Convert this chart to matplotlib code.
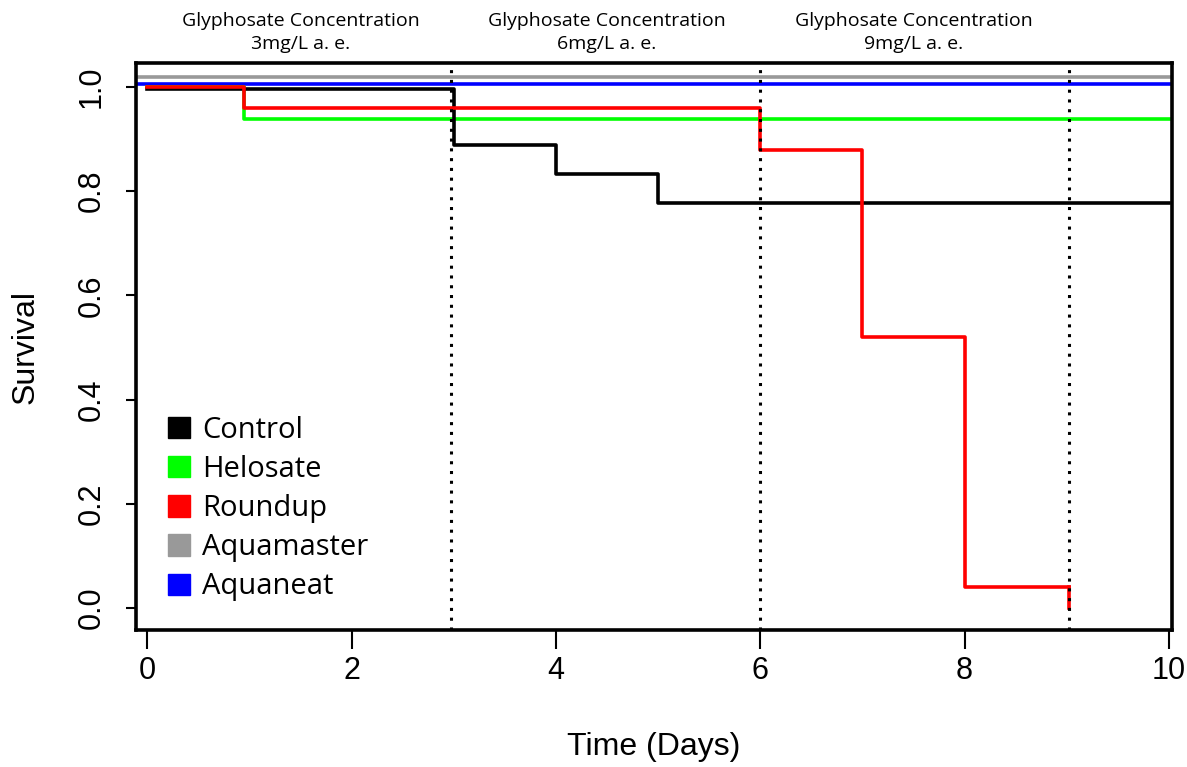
import matplotlib.pyplot as plt

# step survival curves (time of change, survival after)
control_t = [0, 3, 4, 5, 10]
control_s = [0.997, 0.889, 0.833, 0.778, 0.778]
helosate_t = [0, 0.95, 10]
helosate_s = [1.0, 0.938, 0.938]
roundup_t = [0, 0.95, 6, 7, 8, 9.02]
roundup_s = [1.0, 0.96, 0.88, 0.52, 0.04, 0.04]
aquamaster_s = 1.02
aquaneat_s = 1.005

series_names = ['Control', 'Helosate', 'Roundup', 'Aquamaster', 'Aquaneat']
series_colors = ['#000000', '#00ff00', '#ff0000', '#999999', '#0000ff']

phase_bounds = [2.97, 6, 9.02]
phase_centers = [1.5, 4.5, 7.5]
phase_labels = ['Glyphosate Concentration\n3mg/L a. e.',
                'Glyphosate Concentration\n6mg/L a. e.',
                'Glyphosate Concentration\n9mg/L a. e.']

plt.rcParams['font.family'] = ['Liberation Sans', 'DejaVu Sans']

fig = plt.figure(figsize=(11.87, 7.67), dpi=100)
ax = fig.add_axes([136 / 1187, 1 - 630 / 767, (1172 - 136) / 1187, (630 - 63) / 767])

lw = 2.6
ax.axhline(aquamaster_s, color=series_colors[3], lw=lw)
ax.axhline(aquaneat_s, color=series_colors[4], lw=lw)
ax.step(helosate_t, helosate_s, where='post', color=series_colors[1], lw=lw)
ax.step(control_t, control_s, where='post', color=series_colors[0], lw=lw)
ax.step(roundup_t, roundup_s, where='post', color=series_colors[2], lw=lw)
ax.plot([roundup_t[-1], roundup_t[-1]], [roundup_s[-1], 0.0], color=series_colors[2], lw=lw)

for xb in phase_bounds:
    ax.axvline(xb, color='black', lw=2.2, ls=(0, (1, 2.2)))

for xc, lab in zip(phase_centers, phase_labels):
    ax.text(xc, 1.066, lab, ha='center', va='bottom', fontsize=14,
            family=['Open Sans', 'DejaVu Sans'], linespacing=1.3)

ax.set_xlim(-0.11, 10.03)
ax.set_ylim(-0.042, 1.046)
ax.set_xticks([0, 2, 4, 6, 8, 10])
ax.set_yticks([0.0, 0.2, 0.4, 0.6, 0.8, 1.0])
ax.set_yticklabels(['0.0', '0.2', '0.4', '0.6', '0.8', '1.0'], rotation=90, va='center')
ax.tick_params(axis='x', length=14, width=1.5, labelsize=22, pad=5)
ax.tick_params(axis='y', length=7, width=1.5, labelsize=22, pad=14)
for sp in ax.spines.values():
    sp.set_linewidth(2.6)

ax.set_xlabel('Time (Days)', fontsize=23, labelpad=33)
ax.set_ylabel('Survival', fontsize=23, labelpad=26)

handles = [plt.Rectangle((0, 0), 1, 1, color=c) for c in series_colors]
leg = ax.legend(handles, series_names, loc='lower left', bbox_to_anchor=(0.006, 0.004),
                frameon=False, handlelength=0.75, handleheight=0.75,
                handletextpad=0.4, labelspacing=0.35,
                prop={'family': ['Open Sans', 'DejaVu Sans'], 'size': 21})

fig.savefig('out.png', dpi=100)
